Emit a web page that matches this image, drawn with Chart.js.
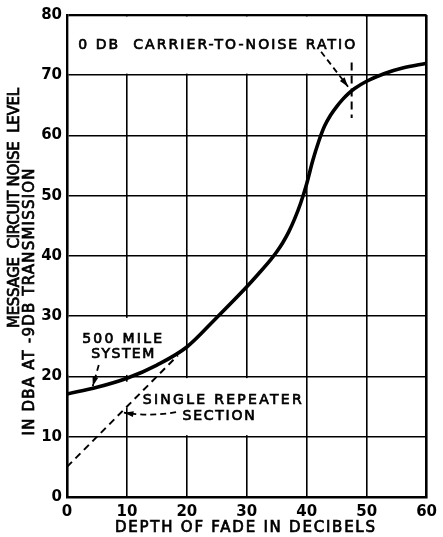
<!DOCTYPE html>
<html>
<head>
<meta charset="utf-8">
<script src="https://cdn.jsdelivr.net/npm/chart.js@4.4.1/dist/chart.umd.min.js"></script>
<style>
  html, body { margin: 0; padding: 0; background: #fff; }
  #wrap { width: 443px; height: 537px; }
</style>
</head>
<body>
<div id="wrap"><canvas id="fadeChart" width="443" height="537"></canvas></div>

<script>
// 500 mile system: noise vs depth of fade
var fadeDb     = [0, 5, 10, 15, 20, 25, 30, 32, 34, 35, 36, 37, 38, 39, 40, 41, 42, 43, 44, 45, 46, 47, 48, 50, 53, 56, 60];
var noiseLevel = [17.1, 18.2, 19.7, 21.9, 24.9, 29.8, 34.9, 37.1, 39.4, 40.7, 42.2, 44, 46.2, 48.8, 52, 55.8, 59, 61.6, 63.4, 64.8, 66, 67, 67.8, 69, 70.3, 71.2, 72];

// single repeater section (dashed)
var repeaterDb    = [0, 18.5];
var repeaterNoise = [5, 23.5];

var xTicks = [0, 10, 20, 30, 40, 50, 60];
var yTicks = [0, 10, 20, 30, 40, 50, 60, 70, 80];

var FONT = '"DejaVu Sans", sans-serif';
</script>

<script>
function toPts(xs, ys) {
	return xs.map(function (x, i) { return { x: x, y: ys[i] }; });
}

// draw text stretched to a given width (the original lettering is very wide)
function fitText(ctx, txt, cx, cy, w) {
	ctx.letterSpacing = '0px';
	var nat = ctx.measureText(txt).width;
	var sp = (w - nat) / (txt.length - 1);
	ctx.letterSpacing = sp + 'px';
	ctx.textAlign = 'left';
	ctx.textBaseline = 'middle';
	ctx.fillText(txt, cx - w / 2, cy);
	ctx.lineWidth = 0.7;
	ctx.strokeStyle = '#000';
	ctx.strokeText(txt, cx - w / 2, cy);
	ctx.letterSpacing = '0px';
}

function arrow(ctx, pts, head) {
	ctx.save();
	ctx.strokeStyle = '#000';
	ctx.fillStyle = '#000';
	ctx.lineWidth = 1.8;
	ctx.setLineDash([6, 4]);
	ctx.beginPath();
	ctx.moveTo(pts[0][0], pts[0][1]);
	if (pts.length == 3)
		ctx.quadraticCurveTo(pts[1][0], pts[1][1], pts[2][0], pts[2][1]);
	else
		ctx.lineTo(pts[1][0], pts[1][1]);
	ctx.stroke();
	if (head) {
		var a = pts[pts.length - 1], b = pts[pts.length - 2];
		var ang = Math.atan2(a[1] - b[1], a[0] - b[0]);
		ctx.setLineDash([]);
		ctx.beginPath();
		ctx.moveTo(a[0], a[1]);
		ctx.lineTo(a[0] - 10 * Math.cos(ang - 0.3), a[1] - 10 * Math.sin(ang - 0.3));
		ctx.lineTo(a[0] - 10 * Math.cos(ang + 0.3), a[1] - 10 * Math.sin(ang + 0.3));
		ctx.closePath();
		ctx.fill();
	}
	ctx.restore();
}

// white patches behind the labels, in axis units [x0, y0, x1, y1]
var blanks = [
	[0, 70, 50, 80],
	[0, 20, 16.5, 30],
	[10, 10, 39, 20],
	[9.5, 14.6, 11, 19.4]
];

var blankPlugin = {
	id: 'blanks',
	beforeDatasetsDraw: function (chart) {
		var ctx = chart.ctx, sx = chart.scales.x, sy = chart.scales.y;
		ctx.save();
		ctx.fillStyle = '#fff';
		blanks.forEach(function (b) {
			var x0 = sx.getPixelForValue(b[0]) + 1.6, x1 = sx.getPixelForValue(b[2]) - 1.6;
			var y0 = sy.getPixelForValue(b[3]) + 1.6, y1 = sy.getPixelForValue(b[1]) - 1.6;
			ctx.fillRect(x0, y0, x1 - x0, y1 - y0);
		});
		ctx.restore();
	}
};

var notePlugin = {
	id: 'notes',
	afterDatasetsDraw: function (chart) {
		var ctx = chart.ctx, sx = chart.scales.x, sy = chart.scales.y;
		function P(x, y) { return [sx.getPixelForValue(x), sy.getPixelForValue(y)]; }

		ctx.save();
		ctx.fillStyle = '#000';
		ctx.font = '14px ' + FONT;

		var p;
		p = P(25, 75);    fitText(ctx, '0 DB  CARRIER-TO-NOISE RATIO', p[0], p[1], 277);
		p = P(9.2, 26.2); fitText(ctx, '500 MILE', p[0], p[1], 80);
		p = P(9.3, 23.6); fitText(ctx, 'SYSTEM', p[0], p[1], 63);
		p = P(25.9, 16.1); fitText(ctx, 'SINGLE REPEATER', p[0], p[1], 159);
		p = P(25.3, 13.4); fitText(ctx, 'SECTION', p[0], p[1], 72);

		arrow(ctx, [P(5.3, 21.9), P(4.3, 18.4)], true);
		arrow(ctx, [P(18.2, 14.1), P(14, 13.3), P(9.5, 14)], true);
		arrow(ctx, [P(42.4, 73.9), P(46.9, 68.1)], true);

		// carrier-to-noise marker
		ctx.strokeStyle = '#000';
		ctx.lineWidth = 2;
		ctx.setLineDash([8, 5]);
		var a = P(47.5, 72.1), b = P(47.5, 62.9);
		ctx.beginPath(); ctx.moveTo(a[0], a[1]); ctx.lineTo(b[0], b[1]); ctx.stroke();
		ctx.setLineDash([]);

		// axis titles
		ctx.font = '15px ' + FONT;
		fitText(ctx, 'DEPTH OF FADE IN DECIBELS', 245, 528, 260);

		ctx.translate(15.5, 208);
		ctx.rotate(-Math.PI / 2);
		fitText(ctx, 'MESSAGE  CIRCUIT NOISE  LEVEL', 0, 0, 240);
		ctx.rotate(Math.PI / 2);
		ctx.translate(30 - 15.5, 302 - 208);
		ctx.rotate(-Math.PI / 2);
		fitText(ctx, 'IN DBA AT -9DB TRANSMISSION', 0, 0, 267);
		ctx.restore();
	}
};

var cfg = {
	type: 'line',
	data: {
		datasets: [
			{
				label: '500 MILE SYSTEM',
				data: toPts(fadeDb, noiseLevel),
				borderColor: '#000',
				borderWidth: 3.6,
				pointRadius: 0,
				cubicInterpolationMode: 'monotone',
				borderCapStyle: 'round',
				fill: false
			},
			{
				label: 'SINGLE REPEATER SECTION',
				data: toPts(repeaterDb, repeaterNoise),
				borderColor: '#000',
				borderWidth: 2,
				borderDash: [7, 5],
				pointRadius: 0,
				tension: 0,
				fill: false
			}
		]
	},
	options: {
		responsive: false,
		animation: false,
		devicePixelRatio: 1,
		layout: { padding: { top: 15, right: 11, left: 0, bottom: 0 } },
		plugins: { legend: { display: false }, tooltip: { enabled: false } },
		scales: {
			x: {
				type: 'linear', min: 0, max: 60,
				afterBuildTicks: function (s) { s.ticks = xTicks.map(function (v) { return { value: v }; }); },
				afterFit: function (s) { s.height = 40; },
				grid: {
					color: '#000', drawTicks: false,
					lineWidth: function (c) { return c.tick && c.tick.value == 60 ? 2.6 : 1.6; }
				},
				border: { color: '#000', width: 2.6 },
				ticks: { color: '#000', padding: 6, maxRotation: 0, font: { family: FONT, size: 15, weight: 'bold' } }
			},
			y: {
				type: 'linear', min: 0, max: 80,
				afterBuildTicks: function (s) { s.ticks = yTicks.map(function (v) { return { value: v }; }); },
				afterFit: function (s) { s.width = 67; },
				grid: {
					color: '#000', drawTicks: false,
					lineWidth: function (c) { return c.tick && c.tick.value == 80 ? 2.6 : 1.6; }
				},
				border: { color: '#000', width: 2.6 },
				ticks: { color: '#000', padding: 5, font: { family: FONT, size: 15, weight: 'bold' } }
			}
		}
	},
	plugins: [blankPlugin, notePlugin]
};

var fade_chart = new Chart(document.getElementById('fadeChart'), cfg);
</script>
</body>
</html>
